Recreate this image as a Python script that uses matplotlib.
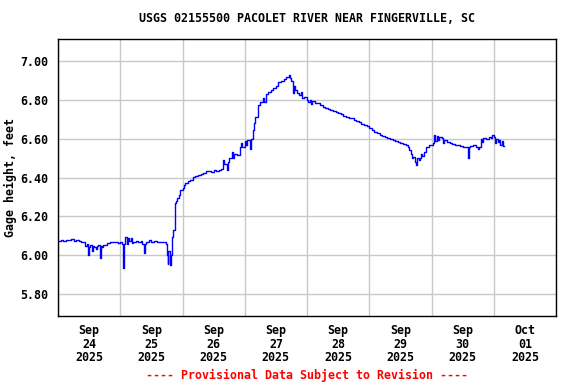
import matplotlib
matplotlib.use("Agg")
import matplotlib.pyplot as plt
import pandas as pd

# hours after 2025-09-24 00:00 and gage height (ft)
hours = [0, 1, 2, 3, 4, 5, 6, 7, 8, 9, 10, 10.5, 11, 11.5, 12, 12.5, 13, 13.5, 14, 14.5,
         15, 15.5, 16, 16.5, 17, 17.5, 18, 19, 20, 21, 22, 23, 24, 24.5, 25, 25.25, 25.5,
         26, 26.5, 27, 27.5, 28, 28.5, 29, 30, 31, 32, 32.5, 33, 33.5, 34, 35, 36, 37, 38,
         39, 40, 41, 41.5, 42, 42.25, 42.5, 43, 43.5, 44, 44.5, 45, 45.5, 46, 46.5, 47, 48,
         48.5, 49, 50, 51, 52, 53, 54, 55, 56, 57, 58, 59, 60, 61, 62, 63, 63.5, 64, 65,
         65.5, 66, 67, 67.5, 68, 69, 70, 70.5, 71, 72, 72.5, 73, 74, 74.5, 75, 75.5, 76,
         77, 78, 79, 79.5, 80, 81, 82, 83, 84, 85, 86, 87, 88, 89, 89.5, 90, 90.5, 91,
         91.5, 92, 93, 93.5, 94, 95, 96, 96.5, 97, 97.5, 98, 99, 100, 101, 102, 103, 104,
         105, 106, 107, 108, 109, 110, 111, 112, 113, 114, 115, 116, 117, 118, 119, 120,
         121, 122, 123, 124, 125, 126, 127, 128, 129, 130, 131, 132, 133, 134, 135, 135.5,
         136, 136.5, 137, 137.5, 138, 138.5, 139, 139.5, 140, 140.5, 141, 142, 143, 144,
         144.5, 145, 145.5, 146, 146.5, 147, 148, 148.5, 149, 150, 151, 152, 153, 154, 155,
         156, 157, 158, 158.2, 158.5, 159, 160, 161, 162, 162.5, 163, 163.5, 164, 165, 166,
         167, 167.5, 168, 168.5, 169, 169.5, 170, 170.5, 171, 171.5, 172]
stage = [6.075, 6.078, 6.074, 6.080, 6.076, 6.083, 6.074, 6.079, 6.075, 6.070, 6.066, 6.045,
         6.060, 6.000, 6.040, 6.050, 6.020, 6.045, 6.040, 6.030, 6.045, 6.050, 5.985, 6.045,
         6.040, 6.050, 6.050, 6.064, 6.068, 6.066, 6.070, 6.064, 6.068, 6.060, 6.020, 5.935,
         6.060, 6.095, 6.060, 6.090, 6.075, 6.088, 6.065, 6.070, 6.072, 6.068, 6.075, 6.060,
         6.010, 6.060, 6.070, 6.078, 6.066, 6.072, 6.068, 6.070, 6.066, 6.070, 6.060, 6.000,
         5.955, 6.020, 5.947, 6.000, 6.095, 6.130, 6.270, 6.280, 6.295, 6.310, 6.335, 6.345,
         6.360, 6.370, 6.385, 6.390, 6.404, 6.410, 6.415, 6.420, 6.425, 6.432, 6.433, 6.430,
         6.438, 6.436, 6.440, 6.445, 6.490, 6.470, 6.440, 6.480, 6.500, 6.530, 6.500, 6.520,
         6.515, 6.560, 6.576, 6.560, 6.590, 6.567, 6.593, 6.550, 6.600, 6.645, 6.680, 6.714,
         6.774, 6.790, 6.810, 6.790, 6.830, 6.840, 6.850, 6.860, 6.875, 6.895, 6.900, 6.910,
         6.920, 6.929, 6.915, 6.900, 6.835, 6.870, 6.850, 6.835, 6.826, 6.840, 6.810, 6.815,
         6.800, 6.790, 6.800, 6.780, 6.795, 6.785, 6.783, 6.774, 6.765, 6.757, 6.755, 6.748,
         6.742, 6.740, 6.732, 6.728, 6.720, 6.715, 6.710, 6.705, 6.697, 6.692, 6.685, 6.678,
         6.670, 6.665, 6.655, 6.645, 6.636, 6.630, 6.622, 6.615, 6.610, 6.605, 6.598, 6.594,
         6.590, 6.584, 6.578, 6.573, 6.566, 6.556, 6.540, 6.520, 6.500, 6.507, 6.480, 6.464,
         6.500, 6.490, 6.500, 6.520, 6.510, 6.530, 6.560, 6.570, 6.567, 6.580, 6.620, 6.590,
         6.615, 6.593, 6.610, 6.605, 6.580, 6.595, 6.585, 6.578, 6.575, 6.570, 6.567, 6.565,
         6.560, 6.560, 6.555, 6.500, 6.560, 6.565, 6.567, 6.560, 6.550, 6.560, 6.600, 6.585,
         6.605, 6.600, 6.610, 6.605, 6.620, 6.610, 6.576, 6.600, 6.585, 6.593, 6.570, 6.590,
         6.564, 6.564]

start = pd.Timestamp("2025-09-24")
times = start + pd.to_timedelta(hours, unit="h")
days = pd.date_range("2025-09-24", "2025-10-02", freq="D")
day_labels = [d.strftime("%b\n%d\n%Y") for d in days[:-1]]
yticks = [5.80, 6.00, 6.20, 6.40, 6.60, 6.80, 7.00]

plt.rcParams['font.family'] = ['DejaVu Sans Mono']
plt.rcParams['font.weight'] = 'bold'

fig = plt.figure(figsize=(5.76, 3.84), dpi=100)
ax = fig.add_axes([58 / 576, 1 - 316 / 384, 498 / 576, 277 / 384])

ax.plot(times, stage, color='#0000ff', lw=1, drawstyle='steps-post')

ax.set_xlim(days[0], days[-1])
ax.set_ylim(5.686, 7.115)

ax.set_xticks(days)
ax.set_xticklabels([])
noon = days[:-1] + pd.Timedelta(hours=12)
ax.set_xticks(noon, minor=True)
ax.set_xticklabels(day_labels, minor=True, fontsize=8.4, fontweight='bold', linespacing=1.05)
ax.set_yticks(yticks)
ax.set_yticklabels(["%.2f" % v for v in yticks], fontsize=8.4, fontweight='bold')
ax.tick_params(axis='both', which='both', length=0)
ax.tick_params(axis='x', which='minor', pad=6)
ax.tick_params(axis='y', pad=7)

ax.grid(True, which='major', color='#c8c8c8', lw=1)
ax.set_axisbelow(True)
for s in ax.spines.values():
    s.set_color('black')
    s.set_linewidth(1)

ax.set_ylabel("Gage height, feet", fontsize=8.4, fontweight='bold', labelpad=2)
cx = (58 + 556) / 2 / 576
fig.text(cx, 1 - 19 / 384, "USGS 02155500 PACOLET RIVER NEAR FINGERVILLE, SC",
         ha='center', va='center', fontsize=8.4, fontweight='bold')
fig.text(cx, 1 - 375 / 384, "---- Provisional Data Subject to Revision ----",
         ha='center', va='center', fontsize=8.4, fontweight='bold', color='red')

fig.savefig("out.png", dpi=100)
